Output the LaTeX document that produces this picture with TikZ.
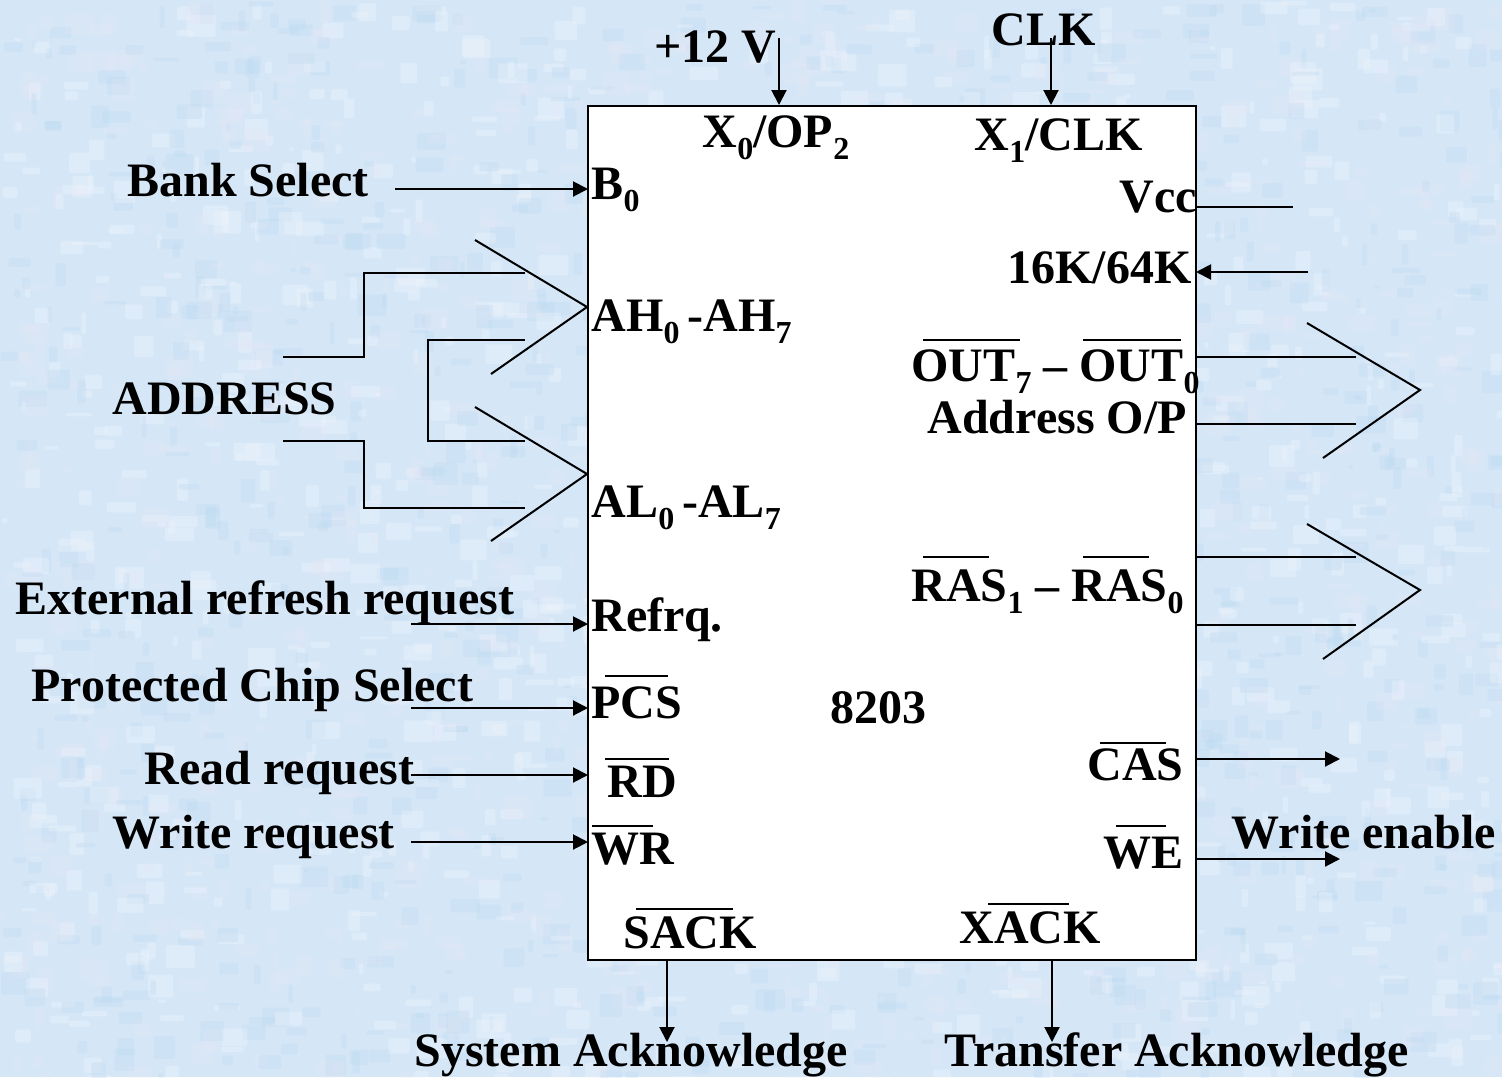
\documentclass[tikz,border=0pt]{standalone}
\usepackage{fontspec}
\setmainfont{Liberation Serif}
\usetikzlibrary{arrows.meta}
\newcommand{\subs}[1]{\raisebox{-12pt}{\fontsize{32}{32}\selectfont\bfseries #1}}
\definecolor{bgblue}{HTML}{D5E7F7}
\definecolor{mota}{HTML}{F1F5FD}
\definecolor{motb}{HTML}{BAD8F0}
\definecolor{motc}{HTML}{ECE6F5}
\tikzset{
  lab/.style={anchor=base west,inner sep=0pt,xshift=-0.6pt,yshift=-0.4pt,font=\fontsize{48}{52}\selectfont\bfseries,text=black},
  conn/.style={draw=black,line width=2pt},
  arr/.style={conn,-{Triangle[length=15pt,width=15pt]}},
  chipbox/.style={draw=black,line width=2.4pt,fill=white,minimum width=608pt,minimum height=854pt,inner sep=0pt},
  bar/.style={draw=black,line width=2pt}
}
\begin{document}
\begin{tikzpicture}[x=1pt,y=-1pt]
\useasboundingbox (0,0) rectangle (1502,1077);
\fill[bgblue] (0,0) rectangle (1502,1077);
\pgfmathsetseed{4217}
\foreach \i in {1,...,3000}{
  \pgfmathsetmacro{\xx}{rnd*1502}
  \pgfmathsetmacro{\yy}{rnd*1077}
  \pgfmathsetmacro{\ww}{4+rnd*26}
  \pgfmathsetmacro{\hh}{3+rnd*20}
  \pgfmathtruncatemacro{\mixc}{int(rnd*3)}
  \ifnum\mixc=0
    \fill[mota,opacity=0.32,rounded corners=2pt] (\xx,\yy) rectangle ++(\ww,\hh);
  \else\ifnum\mixc=1
    \fill[motb,opacity=0.28,rounded corners=2pt] (\xx,\yy) rectangle ++(\ww,\hh);
  \else
    \fill[motc,opacity=0.20,rounded corners=2pt] (\xx,\yy) rectangle ++(\ww,\hh);
  \fi\fi
}
\node[chipbox] (chip) at (892,533) {};

% free ends and chip pins
\foreach \n/\x/\y in {
 v1/779/38, v2/779/105, k1/1051/38, k2/1051/105,
 bs1/395/189, bs2/588/189,
 vc1/1196/207, vc2/1293/207, s1/1308/272, s2/1196/272,
 o1/1196/357, o2/1356/357, o3/1196/424, o4/1356/424,
 oc1/1307/323, oc2/1420/390, oc3/1323/458,
 r1/1196/557, r2/1356/557, r3/1196/625, r4/1356/625,
 rc1/1307/524, rc2/1420/590, rc3/1323/659,
 ca1/1196/759, ca2/1340/759, we1/1196/859, we2/1340/859,
 rf1/411/624, rf2/588/624, pc1/411/708, pc2/588/708,
 rd1/411/775, rd2/588/775, wr1/411/842, wr2/588/842,
 sa1/667/960, sa2/667/1042, xa1/1052/960, xa2/1052/1042,
 ad1/283/357, ad2/364/357, ad3/364/273, ad4/525/273,
 ad5/525/340, ad6/428/340, ad7/428/441, ad8/525/441,
 ad9/283/441, ad10/364/441, ad11/364/508, ad12/525/508,
 hc1/475/240, hc2/587/307, hc3/491/374,
 lc1/475/407, lc2/587/474, lc3/491/541}{
 \coordinate (\n) at (\x,\y);
}

\draw[arr] (v1) -- (v2);
\draw[arr] (k1) -- (k2);
\draw[arr] (bs1) -- (bs2);
\draw[conn] (vc1) -- (vc2);
\draw[arr] (s1) -- (s2);
\draw[conn] (o1) -- (o2);
\draw[conn] (o3) -- (o4);
\draw[conn] (oc1) -- (oc2) -- (oc3);
\draw[conn] (r1) -- (r2);
\draw[conn] (r3) -- (r4);
\draw[conn] (rc1) -- (rc2) -- (rc3);
\draw[arr] (ca1) -- (ca2);
\draw[arr] (we1) -- (we2);
\draw[arr] (rf1) -- (rf2);
\draw[arr] (pc1) -- (pc2);
\draw[arr] (rd1) -- (rd2);
\draw[arr] (wr1) -- (wr2);
\draw[arr] (sa1) -- (sa2);
\draw[arr] (xa1) -- (xa2);
\draw[conn] (ad1) -- (ad2) -- (ad3) -- (ad4);
\draw[conn] (ad5) -- (ad6) -- (ad7) -- (ad8);
\draw[conn] (ad9) -- (ad10) -- (ad11) -- (ad12);
\draw[conn] (hc1) -- (hc2) -- (hc3);
\draw[conn] (lc1) -- (lc2) -- (lc3);

% labels
\node[lab] (t1) at (655,62) {+12 V};
\node[lab] (t2) at (992,45) {CLK};
\node[lab] (t3) at (703,147) {X\subs{0}/OP\subs{2}};
\node[lab] (t4) at (975,150) {X\subs{1}/CLK};
\node[lab] (t5) at (128,196) {Bank Select};
\node[lab] (t6) at (592,199) {B\subs{0}};
\node[lab] (t7) at (1120,212) {Vcc};
\node[lab] (t8) at (1008,283) {16K/64K};
\node[lab] (t9) at (592,331) {AH\subs{0}\,-AH\subs{7}};
\node[lab] (t10) at (912,381) {OUT\subs{7} -- OUT\subs{0}};
\node[lab] (t11) at (928,433) {Address O/P};
\node[lab] (t12) at (113,414) {ADDRESS};
\node[lab] (t13) at (592,517) {AL\subs{0}\,-AL\subs{7}};
\node[lab] (t14) at (16,614) {External refresh request};
\node[lab] (t15) at (592,631) {Refrq.};
\node[lab] (t16) at (912,601) {RAS\subs{1} -- RAS\subs{0}};
\node[lab] (t17) at (32,701) {Protected Chip Select};
\node[lab] (t18) at (592,718) {PCS};
\node[lab] (t19) at (831,723) {8203};
\node[lab] (t20) at (145,784) {Read request};
\node[lab] (t21) at (608,797) {RD};
\node[lab] (t22) at (1088,780) {CAS};
\node[lab] (t23) at (113,848) {Write request};
\node[lab] (t24) at (592,864) {WR};
\node[lab] (t25) at (1104,868) {WE};
\node[lab] (t26) at (1232,848) {Write enable};
\node[lab] (t27) at (624,948) {SACK};
\node[lab] (t28) at (960,943) {XACK};
\node[lab] (t29) at (415,1066) {System Acknowledge};
\node[lab] (t30) at (945,1066) {Transfer Acknowledge};

% overbars
\foreach \a/\b/\y in {923/1020/340, 1083/1181/340, 923/989/557, 1083/1149/557,
  605/668/676, 605/669/759, 1100/1166/743, 1116/1166/826, 592/653/826,
  636/733/909, 988/1069/904}{
  \draw[bar] (\a,\y) -- (\b,\y);
}
\end{tikzpicture}
\end{document}
